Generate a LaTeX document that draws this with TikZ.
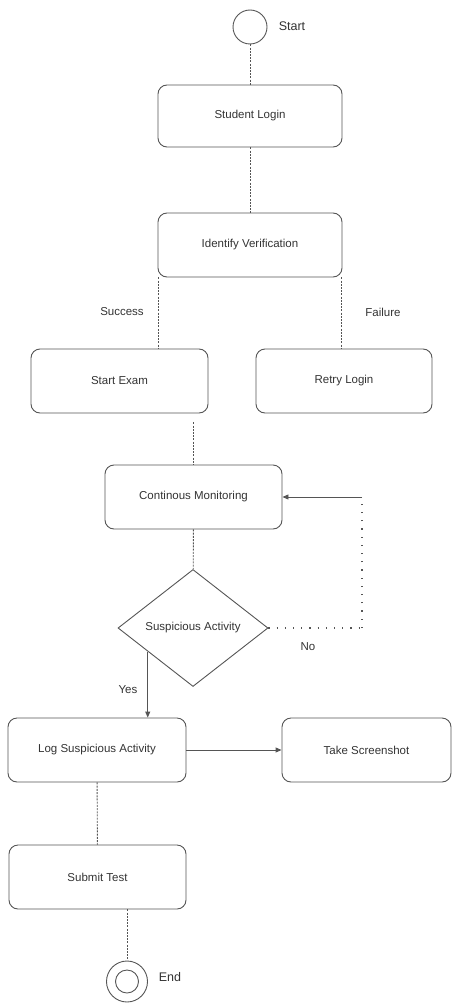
\documentclass[tikz,border=0pt]{standalone}
\usepackage{fontspec}
\setmainfont{Liberation Sans}
\usetikzlibrary{shapes.geometric,arrows.meta,calc}
\definecolor{linec}{HTML}{555555}
\definecolor{textc}{HTML}{333333}
\begin{document}
\begin{tikzpicture}[x=1pt,y=-1pt,
  every node/.style={font=\fontsize{11.5}{13}\selectfont, text=textc},
  box/.style={draw=linec, line width=0.9pt, rounded corners=9pt, minimum width=177pt, minimum height=64pt, inner sep=0pt},
  dia/.style={draw=linec, line width=0.9pt, shape=diamond, minimum width=150pt, minimum height=117pt, inner sep=0pt},
  circ/.style={draw=linec, line width=0.9pt, circle, inner sep=0pt},
  conn/.style={draw=linec, line width=0.9pt, dash pattern=on 2pt off 1.2pt},
  dotline/.style={draw=linec, line width=1.1pt, dash pattern=on 1.2pt off 7pt},
  flow/.style={draw=linec, line width=0.9pt, -{Triangle[length=6pt,width=5pt]}},
  lbl/.style={font=\fontsize{11.5}{13}\selectfont, text=textc}
]
\useasboundingbox (0,0) rectangle (454,1003);

\node[circ, minimum size=34pt] (start) at (250,27) {};
\node[lbl, font=\fontsize{12.5}{14}\selectfont] (startlbl) at (292,26) {Start};
\node[box, minimum width=184pt, minimum height=62pt] (login) at (250,116) {Student Login};
\node[box, minimum width=184pt] (iv) at (250,245) {Identify Verification};
\node[box] (se) at (119.5,381) {Start Exam};
\node[box, minimum width=176pt] (rl) at (344,381) {Retry Login};
\node[box] (cm) at (193.5,497) {Continous Monitoring};
\node[dia] (sa) at (193,628) {Suspicious Activity};
\node[box, minimum width=178pt] (log) at (97,750) {Log Suspicious Activity};
\node[box, minimum width=169pt] (ss) at (366.5,750) {Take Screenshot};
\node[box] (submit) at (97.5,877) {Submit Test};
\node[circ, minimum size=41pt] (end) at (127,981.5) {};
\draw[draw=linec, line width=0.9pt] (end.center) circle (11.5pt);
\node[lbl, font=\fontsize{12.5}{14}\selectfont] (endlbl) at (170,977) {End};

\node[lbl] (success) at (122,312) {Success};
\node[lbl] (failure) at (383,312) {Failure};
\node[lbl] (no) at (308,647) {No};
\node[lbl] (yes) at (128,690) {Yes};

\coordinate (loopA) at (362,628);
\coordinate (loopB) at (362,497);

\draw[conn] (start) -- (login);
\draw[conn] (login) -- (iv);
\draw[conn] ([xshift=1pt]iv.south west) -- ([xshift=1pt]iv.south west |- se.north);
\draw[conn] ([xshift=-1pt]iv.south east) -- ([xshift=-1pt]iv.south east |- rl.north);
\draw[conn, shorten <=9pt] (cm.north |- se.south) -- (cm.north);
\draw[conn] (cm) -- (sa);
\draw[dotline] (sa.east) -- (loopA);
\draw[dotline] (loopA) -- (loopB);
\draw[flow] (loopB) -- (cm.east);
\coordinate (yesstart) at ($(sa.west)!0.4!(sa.south)$);
\draw[flow] (yesstart) -- (yesstart |- log.north);
\draw[flow] (log) -- (ss);
\draw[conn] (log) -- (submit);
\draw[conn] (end.north |- submit.south) -- (end.north);
\end{tikzpicture}
\end{document}
